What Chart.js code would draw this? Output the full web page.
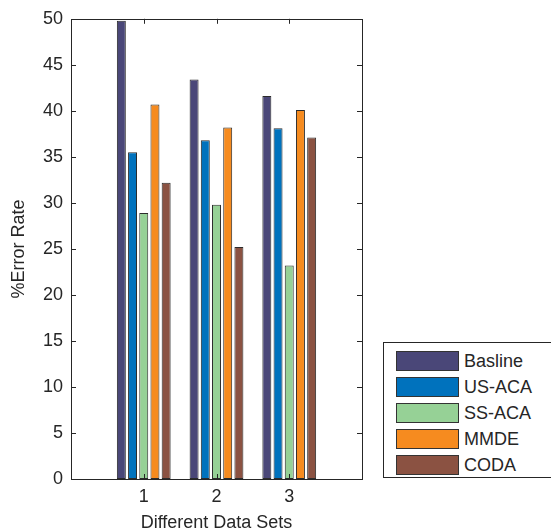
<!DOCTYPE html>
<html>
<head>
<meta charset="utf-8">
<script src="https://cdn.jsdelivr.net/npm/chart.js@4/dist/chart.umd.min.js"></script>
<style>
	body { margin: 0; background: #fff; }
	#wrap { position: relative; width: 551px; height: 531px; }
	#legend {
		position: absolute; left: 383px; top: 342px; width: 170px; height: 136px;
		border: 1px solid #262626; background: #fff; box-sizing: border-box;
		font-family: "Liberation Sans", Arial, sans-serif; font-size: 18px; color: #262626;
		padding-top: 5px;
	}
	#legend .row { display: flex; align-items: center; height: 26px; }
	#legend .box { width: 61px; height: 18px; margin-left: 12px; margin-right: 5px; border: 1px solid #333; }
</style>
</head>
<body>
<div id="wrap">
	<canvas id="canvasErrors" width="551" height="531"></canvas>
	<div id="legend"></div>
</div>
<script>
"use strict"

// error rate (%) per method for each data set
var dataSets = ['1', '2', '3']
var methods = ['Basline', 'US-ACA', 'SS-ACA', 'MMDE', 'CODA']
var basline = [49.8, 43.4, 41.6]
var usAca = [35.5, 36.8, 38.1]
var ssAca = [28.9, 29.8, 23.2]
var mmde = [40.7, 38.2, 40.1]
var coda = [32.2, 25.2, 37.1]

var fillColors = ['#4a4778', '#0072bd', '#96d196', '#f68b1f', '#8b5242']

// empty slots at both ends keep the groups at 1, 2, 3 on a 0..4 axis
function Padded(values) {
	return [null].concat(values, [null])
}

var axisColor = '#262626'

// MATLAB-style frame with inward tick marks
var framePlugin = {
	id: 'frame',
	afterDatasetsDraw: function (chart) {
		const ctx = chart.ctx
		const area = chart.chartArea
		const x = chart.scales.x
		const y = chart.scales.y
		ctx.save()
		ctx.strokeStyle = axisColor
		ctx.lineWidth = 1
		ctx.strokeRect(Math.round(area.left) + 0.5, Math.round(area.top) + 0.5,
			Math.round(area.right - area.left), Math.round(area.bottom - area.top))
		ctx.beginPath()
		y.ticks.forEach(function (t, i) {
			const py = Math.round(y.getPixelForTick(i)) + 0.5
			ctx.moveTo(area.left, py); ctx.lineTo(area.left + 5, py)
			ctx.moveTo(area.right, py); ctx.lineTo(area.right - 5, py)
		})
		x.ticks.forEach(function (t, i) {
			if (x.getLabelForValue(t.value) === '') return
			const px = Math.round(x.getPixelForTick(i)) + 0.5
			ctx.moveTo(px, area.top); ctx.lineTo(px, area.top + 5)
			ctx.moveTo(px, area.bottom); ctx.lineTo(px, area.bottom - 5)
		})
		ctx.stroke()
		ctx.restore()
	}
}

// legend drawn as html, built from the chart's datasets
var htmlLegendPlugin = {
	id: 'htmlLegend',
	afterUpdate: function (chart) {
		const box = document.getElementById('legend')
		box.innerHTML = ''
		chart.data.datasets.forEach(function (ds) {
			const row = document.createElement('div')
			row.className = 'row'
			const sw = document.createElement('span')
			sw.className = 'box'
			sw.style.background = ds.backgroundColor
			const label = document.createElement('span')
			label.textContent = ds.label
			row.appendChild(sw)
			row.appendChild(label)
			box.appendChild(row)
		})
	}
}

var seriesValues = [basline, usAca, ssAca, mmde, coda]
var datasets = []
methods.forEach(function (method, index) {
	datasets.push({
		label: method,
		data: Padded(seriesValues[index]),
		backgroundColor: fillColors[index],
		borderColor: '#2b2b2b',
		borderWidth: 1,
		borderSkipped: false,
		categoryPercentage: 0.77,
		barPercentage: 0.8
	})
})

var font = { family: '"Liberation Sans", Arial, sans-serif', size: 18 }

const context = document.getElementById('canvasErrors').getContext('2d')
const myChart = new Chart(context, {
	type: 'bar',
	data: {
		labels: [''].concat(dataSets, ['']),
		datasets: datasets
	},
	options: {
		responsive: false,
		animation: false,
		layout: { padding: { left: 8, top: 18, right: 189, bottom: 0 } },
		plugins: {
			legend: { display: false },
			tooltip: { enabled: false }
		},
		scales: {
			x: {
				offset: false,
				grid: { display: false, drawTicks: false },
				border: { display: false },
				ticks: { color: axisColor, font: font, padding: 7, maxRotation: 0, autoSkip: false },
				title: { display: true, text: 'Different Data Sets', color: axisColor, font: font, padding: { top: 0, bottom: -3 } },
				afterFit: function (scale) { scale.height = 52 }
			},
			y: {
				min: 0,
				max: 50,
				grid: { display: false, drawTicks: false },
				border: { display: false },
				ticks: { stepSize: 5, color: axisColor, font: font, padding: 8 },
				title: { display: true, text: '%Error Rate', color: axisColor, font: font, padding: { top: 0, bottom: 0 } },
				afterFit: function (scale) { scale.width = 63 }
			}
		}
	},
	plugins: [framePlugin, htmlLegendPlugin]
})
</script>
</body>
</html>
